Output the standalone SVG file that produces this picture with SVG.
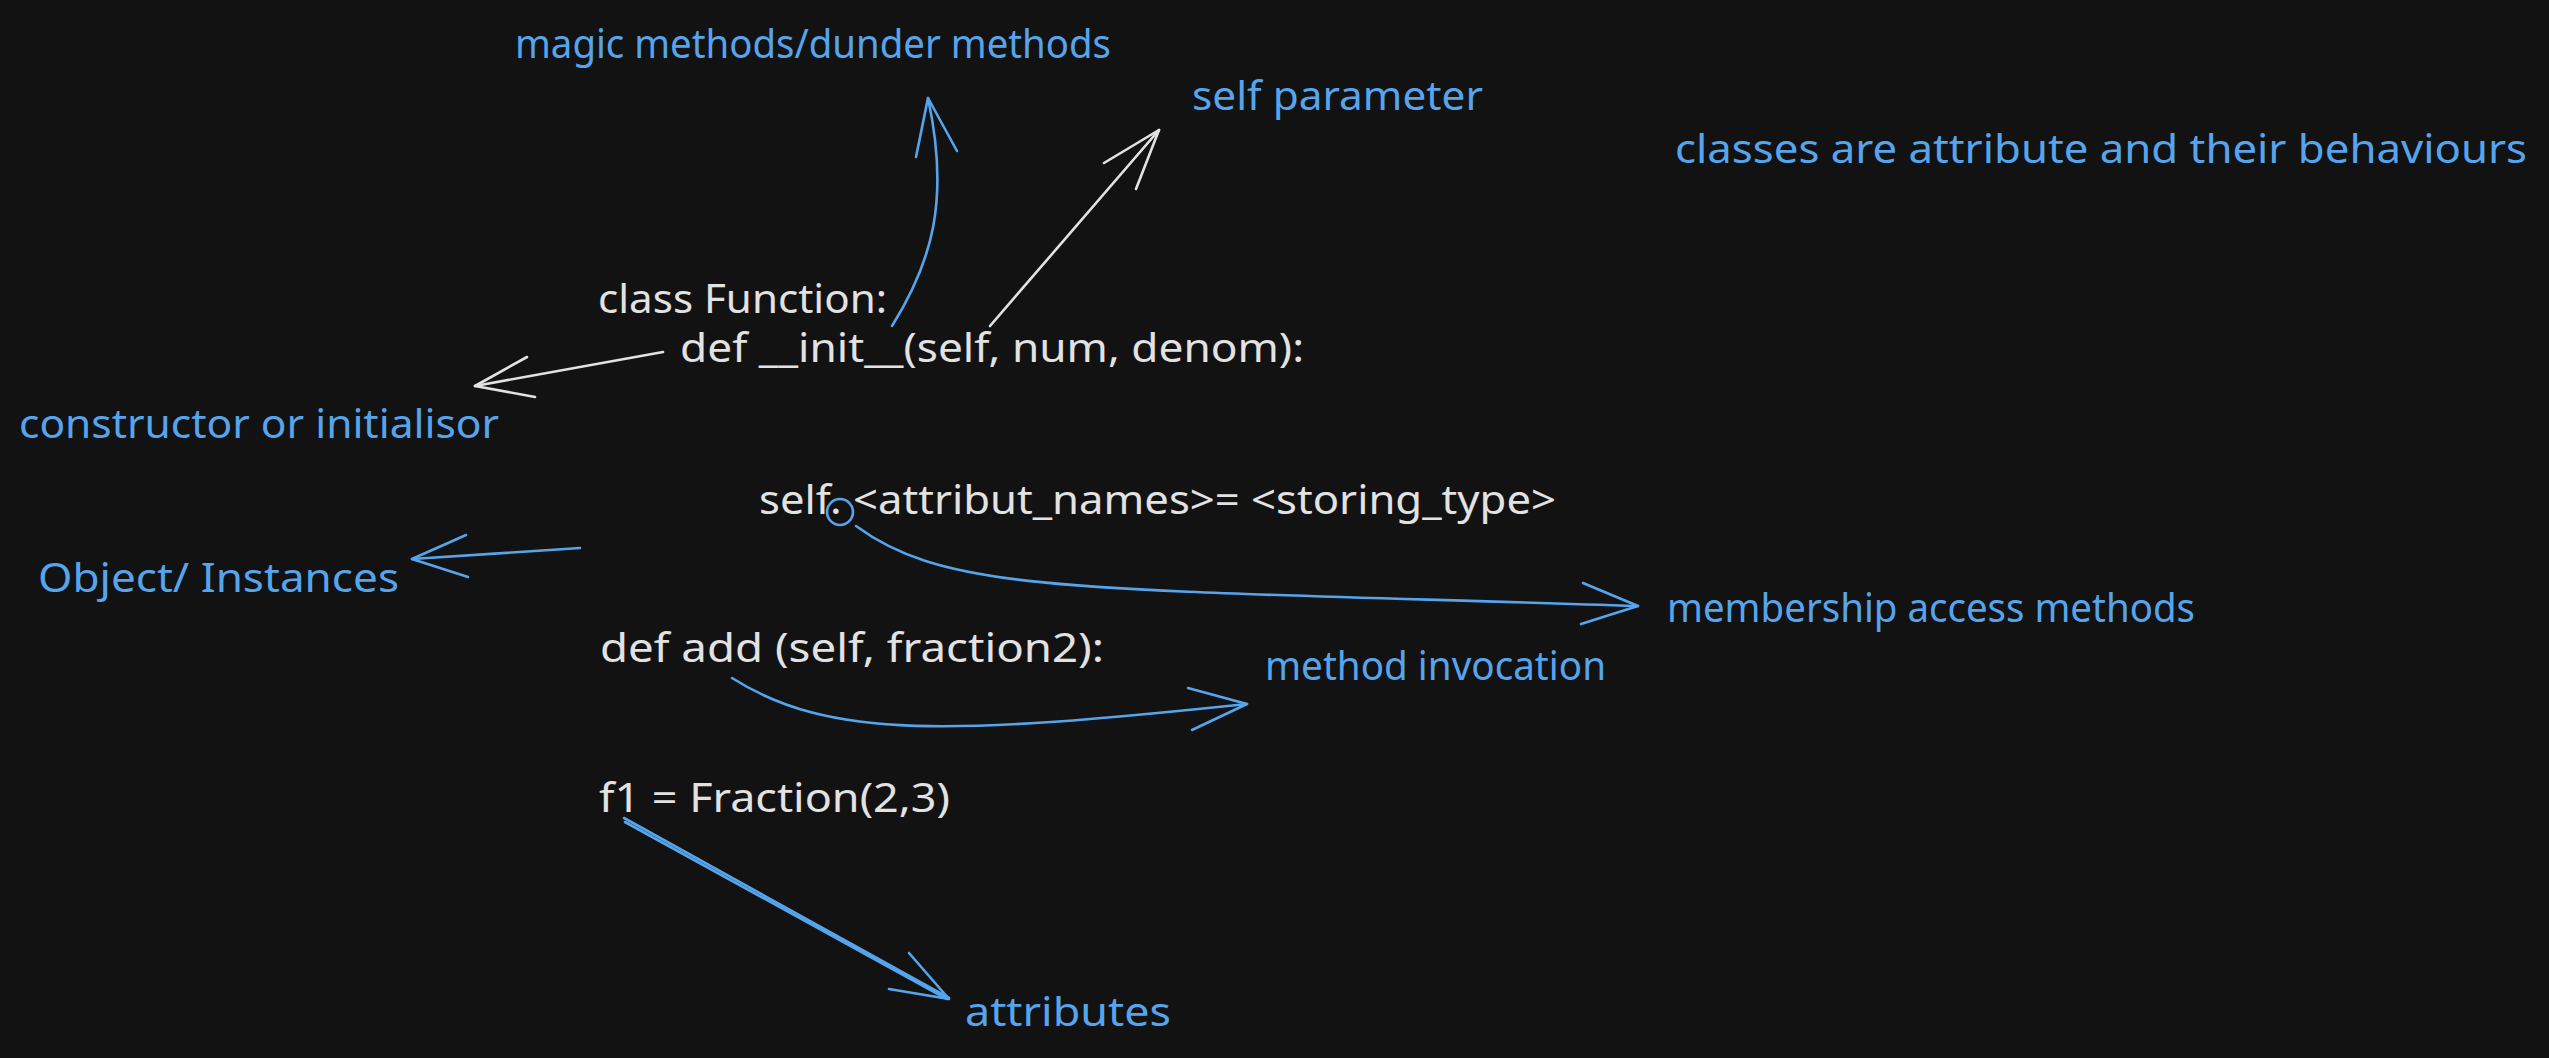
<svg xmlns="http://www.w3.org/2000/svg" width="2549" height="1058" viewBox="0 0 2549 1058">
<style>
text{font-family:"Noto Sans","Open Sans",sans-serif;font-size:40px;}
.w{fill:#e2e2e2;}
.b{fill:#56a5ec;}
.lw{fill:none;stroke:#e2e2e2;stroke-width:2.6;stroke-linecap:round;stroke-linejoin:round;}
.lb{fill:none;stroke:#56a5ec;stroke-width:2.6;stroke-linecap:round;stroke-linejoin:round;}
</style>
<rect width="2549" height="1058" fill="#121212"/>
<g id="magic"><text class="b" x="515" y="58" textLength="596" lengthAdjust="spacingAndGlyphs">magic methods/dunder methods</text></g>
<g id="selfparam"><text class="b" x="1192" y="110" textLength="291" lengthAdjust="spacingAndGlyphs">self parameter</text></g>
<g id="classes"><text class="b" x="1675" y="163" textLength="852" lengthAdjust="spacingAndGlyphs">classes are attribute and their behaviours</text></g>
<g id="classfn"><text class="w" x="598" y="313" textLength="289" lengthAdjust="spacingAndGlyphs">class Function:</text></g>
<g id="init"><text class="w" x="680" y="362" textLength="624" lengthAdjust="spacingAndGlyphs">def __init__(self, num, denom):</text></g>
<g id="constructor"><text class="b" x="19" y="438" textLength="480" lengthAdjust="spacingAndGlyphs">constructor or initialisor</text></g>
<g id="selfattr"><text class="w" x="759" y="514" textLength="797" lengthAdjust="spacingAndGlyphs">self. &lt;attribut_names&gt;= &lt;storing_type&gt;</text>
<ellipse class="lb" cx="840" cy="512" rx="13" ry="13"/></g>
<g id="object"><text class="b" x="38" y="592" textLength="361" lengthAdjust="spacingAndGlyphs">Object/ Instances</text></g>
<g id="membership"><text class="b" x="1667" y="622" textLength="528" lengthAdjust="spacingAndGlyphs">membership access methods</text></g>
<g id="add"><text class="w" x="600" y="662" textLength="504" lengthAdjust="spacingAndGlyphs">def add (self, fraction2):</text></g>
<g id="invocation"><text class="b" x="1265" y="680" textLength="341" lengthAdjust="spacingAndGlyphs">method invocation</text></g>
<g id="f1"><text class="w" x="599" y="812" textLength="351" lengthAdjust="spacingAndGlyphs">f1 = Fraction(2,3)</text></g>
<g id="attributes"><text class="b" x="965" y="1026" textLength="206" lengthAdjust="spacingAndGlyphs">attributes</text></g>
<g id="connectors">
<path class="lb" d="M 892 326 C 932 262, 950 200, 928 98"/>
<path class="lb" d="M 916 157 L 928 98 L 957 151"/>
<path class="lw" d="M 990 326 L 1159 130"/>
<path class="lw" d="M 1104 163 L 1159 130 L 1136 189"/>
<path class="lw" d="M 663 352 L 475 386"/>
<path class="lw" d="M 527 357 L 475 386 L 535 397"/>
<path class="lb" d="M 856 526 C 950 595, 1080 588, 1638 606"/>
<path class="lb" d="M 1583 583 L 1638 606 L 1581 624"/>
<path class="lb" d="M 580 548 L 412 559"/>
<path class="lb" d="M 466 535 L 412 559 L 468 577"/>
<path class="lb" d="M 732 678 C 830 740, 950 735, 1247 704"/>
<path class="lb" d="M 1188 688 L 1247 704 L 1192 730"/>
<path class="lb" d="M 624 818 L 949 998"/>
<path class="lb" d="M 625 822 L 947 999" stroke-width="1.6"/>
<path class="lb" d="M 909 953 L 949 999 L 889 989"/>
</g>
</svg>
